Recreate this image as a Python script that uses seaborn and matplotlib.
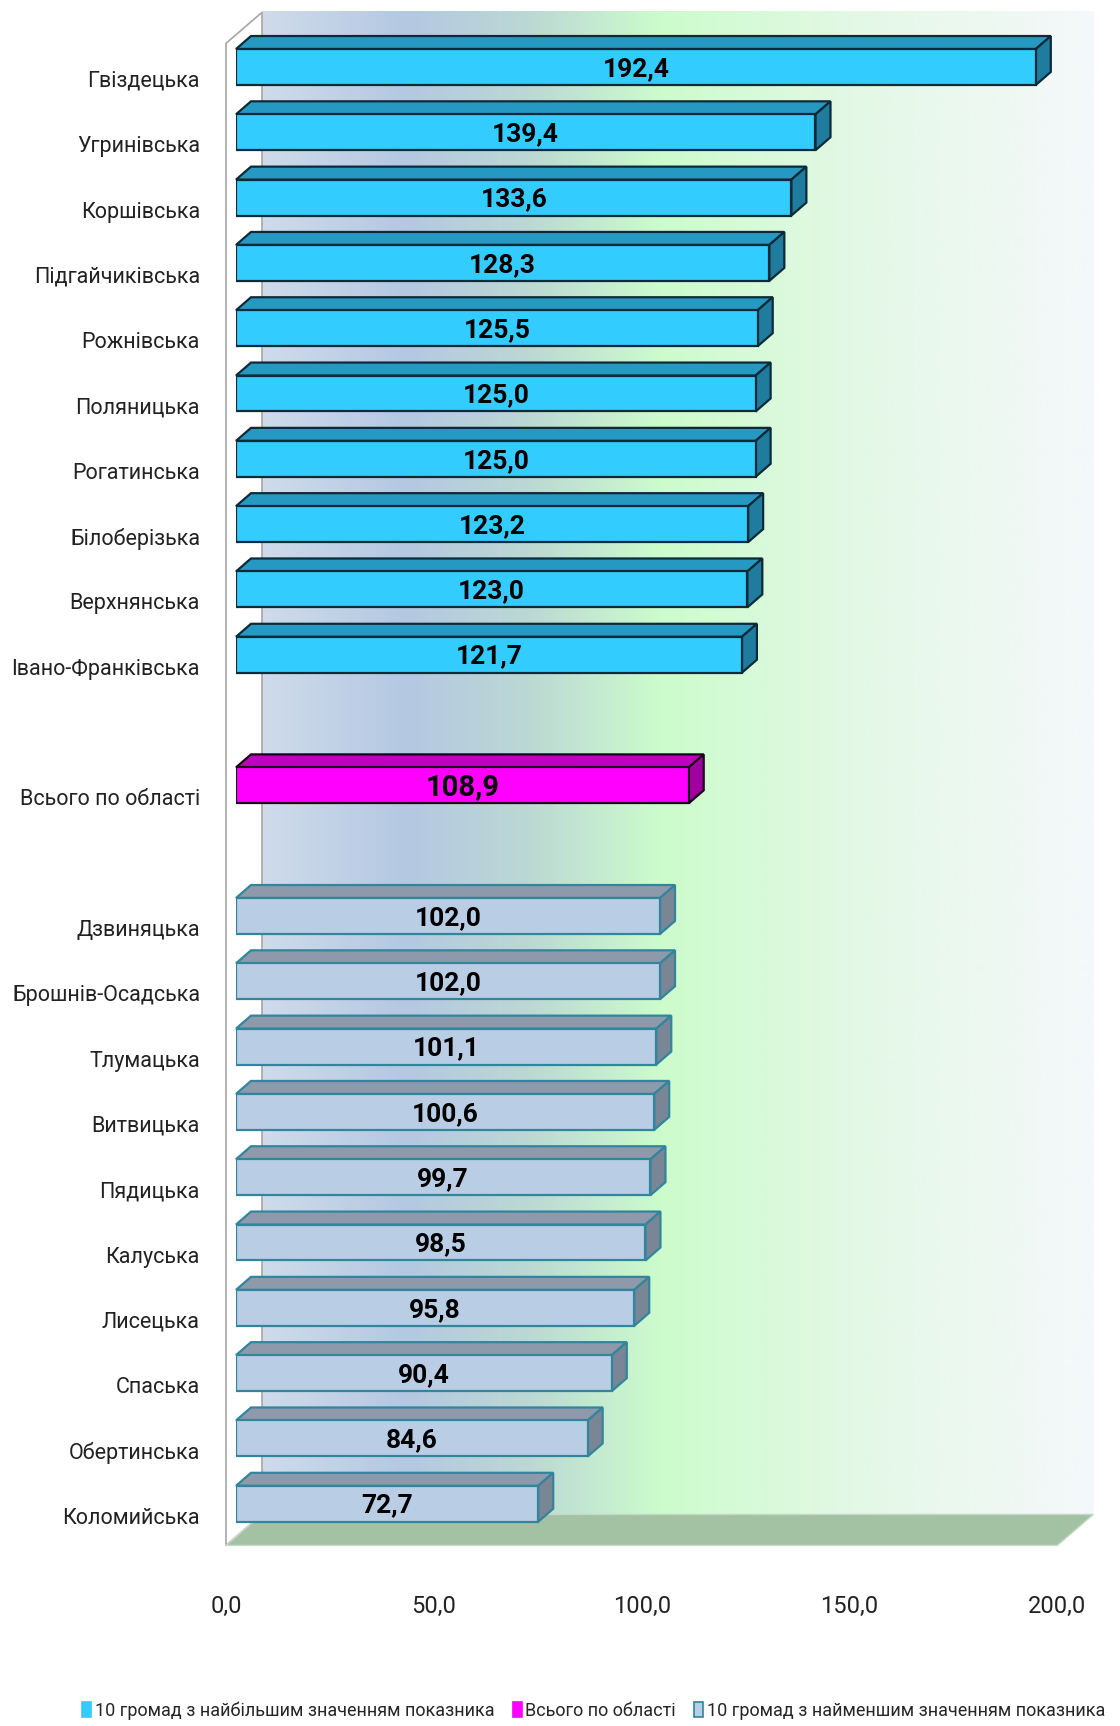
import numpy as np
import pandas as pd
import matplotlib
matplotlib.use("Agg")
import matplotlib.pyplot as plt
import matplotlib.transforms as mtransforms
from matplotlib.colors import LinearSegmentedColormap
from matplotlib.patches import Polygon, Patch, Rectangle
import seaborn as sns

# --- data ---
top_names = ["Гвіздецька", "Угринівська", "Коршівська", "Підгайчиківська", "Рожнівська",
             "Поляницька", "Рогатинська", "Білоберізька", "Верхнянська", "Івано-Франківська"]
top_values = [192.4, 139.4, 133.6, 128.3, 125.5, 125.0, 125.0, 123.2, 123.0, 121.7]

total_name = "Всього по області"
total_value = 108.9

bottom_names = ["Дзвиняцька", "Брошнів-Осадська", "Тлумацька", "Витвицька", "Пядицька",
                "Калуська", "Лисецька", "Спаська", "Обертинська", "Коломийська"]
bottom_values = [102.0, 102.0, 101.1, 100.6, 99.7, 98.5, 95.8, 90.4, 84.6, 72.7]

group_labels = ["10 громад з найбільшим значенням показника", "Всього по області",
                "10 громад з найменшим значенням показника"]
x_ticks = [0, 50, 100, 150, 200]

df = pd.DataFrame({
    "name": top_names + [total_name] + bottom_names,
    "value": top_values + [total_value] + bottom_values,
    "group": [group_labels[0]] * len(top_names) + [group_labels[1]] + [group_labels[2]] * len(bottom_names),
})
order = top_names + [" "] + [total_name] + ["  "] + bottom_names

# face, top, side, edge colours per group
styles = {
    group_labels[0]: ("#33ccff", "#2699c2", "#1f7c9e", "#0d2a38"),
    group_labels[1]: ("#ff00ff", "#c000c0", "#a000a0", "#1a001a"),
    group_labels[2]: ("#b9cde5", "#8e9aab", "#7a8595", "#31859c"),
}

sns.set_style("white")
plt.rcParams["font.family"] = ["Roboto", "DejaVu Sans"]

W, H = 1120, 1726
fig = plt.figure(figsize=(W / 100, H / 100), dpi=100)

# axes in pixels: x 0..200 -> 236..1067, y -0.9..22.8 -> 8..1556 px from top
ax_left, ax_right = 236, 1067.4
ax_top, ax_bot = 8.2, 1556.0
ax = fig.add_axes([ax_left / W, 1 - ax_bot / H, (ax_right - ax_left) / W, (ax_bot - ax_top) / H])

sns.barplot(data=df, x="value", y="name", hue="group", order=order, orient="h",
            palette={g: s[0] for g, s in styles.items()}, dodge=False, width=0.55,
            saturation=1, legend=False, ax=ax, zorder=5)
ax.set_xlim(0, 200)
ax.set_ylim(22.8, -0.9)
bars = [p for p in ax.patches if isinstance(p, Rectangle) and p.get_width() > 0]

px_x = (ax_right - ax_left) / 200.0
px_y = (ax_bot - ax_top) / 23.7

def off(dx_px, dy_px):
    # pixel offset (right, up) -> data units
    return dx_px / px_x, -dy_px / px_y

bx, by = off(15, 13)       # bar depth
fx, fy = off(-10, -9)      # front plane
kx, ky = off(26, 22)       # back plane

# back wall gradient
cmap = LinearSegmentedColormap.from_list("wall", [
    (0.0, "#cfdbeb"), (0.17, "#b4c8e2"), (0.32, "#bcd8d4"), (0.48, "#ccfccc"),
    (0.72, "#e4f8e6"), (1.0, "#f5f8fb")])
grad = np.linspace(0, 1, 400)[None, :]
ax.imshow(grad, cmap=cmap, aspect="auto", extent=(0 + kx, 200 + kx, 22.5 + ky, -0.5 + ky),
          zorder=0, interpolation="bilinear", clip_on=False)
ax.set_xlim(0, 200)
ax.set_ylim(22.8, -0.9)

# left wall
ax.add_patch(Polygon([(fx, -0.5 + fy), (kx, -0.5 + ky), (kx, 22.5 + ky), (fx, 22.5 + fy)],
                     closed=True, facecolor="white", edgecolor="#a6a6a6", lw=1.2, zorder=1,
                     clip_on=False))
# floor
ax.add_patch(Polygon([(fx, 22.5 + fy), (200 + fx, 22.5 + fy), (200 + kx, 22.5 + ky), (kx, 22.5 + ky)],
                     closed=True, facecolor="#a3c2a3", edgecolor="#c8d8c8", lw=1, zorder=2,
                     clip_on=False))

# 3D bar tops and sides + value labels
for p in bars:
    x0, y0 = p.get_x(), p.get_y()
    w, h = p.get_width(), p.get_height()
    row = df[np.isclose(df["value"], w)].iloc[0]
    face, topc, side, edge = styles[row["group"]]
    p.set_edgecolor(edge)
    p.set_linewidth(1.6)
    yt, yb = y0, y0 + h
    ax.add_patch(Polygon([(x0, yt), (x0 + bx, yt + by), (x0 + w + bx, yt + by), (x0 + w, yt)],
                         closed=True, facecolor=topc, edgecolor=edge, lw=1.6, zorder=4,
                         clip_on=False))
    ax.add_patch(Polygon([(x0 + w, yt), (x0 + w + bx, yt + by), (x0 + w + bx, yb + by), (x0 + w, yb)],
                         closed=True, facecolor=side, edgecolor=edge, lw=1.6, zorder=4,
                         clip_on=False))
    ax.text(x0 + w / 2, y0 + h / 2 + 0.03, f"{w:.1f}".replace(".", ","), ha="center", va="center",
            fontsize=21 if row["group"] == group_labels[1] else 19, fontweight="bold",
            color="black", zorder=6)

# axes cosmetics
for s in ax.spines.values():
    s.set_visible(False)
ax.set_xlabel("")
ax.set_ylabel("")
ax.set_xticks(x_ticks)
ax.set_xticklabels([f"{t:.1f}".replace(".", ",") for t in x_ticks], fontsize=17, color="#222222")
ax.tick_params(axis="x", length=0, pad=28)
ax.tick_params(axis="y", length=0, pad=26)
ax.set_yticks(range(len(order)))
ax.set_yticklabels(order, fontsize=15.5, color="#222222")
shift_x = mtransforms.ScaledTranslation(-10 / 100, 0, fig.dpi_scale_trans)
for lab in ax.get_xticklabels():
    lab.set_transform(lab.get_transform() + shift_x)
shift_y = mtransforms.ScaledTranslation(0, -12 / 100, fig.dpi_scale_trans)
for lab in ax.get_yticklabels():
    lab.set_transform(lab.get_transform() + shift_y)

# legend
handles = [Patch(facecolor=styles[g][0], edgecolor=styles[g][3] if i == 2 else styles[g][0], lw=1.2)
           for i, g in enumerate(group_labels)]
fig.legend(handles, group_labels, loc="lower center", bbox_to_anchor=(0.53, -0.006), ncol=3,
           frameon=False, fontsize=13, handlelength=0.5, handleheight=0.9, handletextpad=0.2,
           columnspacing=1.0)

fig.savefig("out.png", dpi=100)
